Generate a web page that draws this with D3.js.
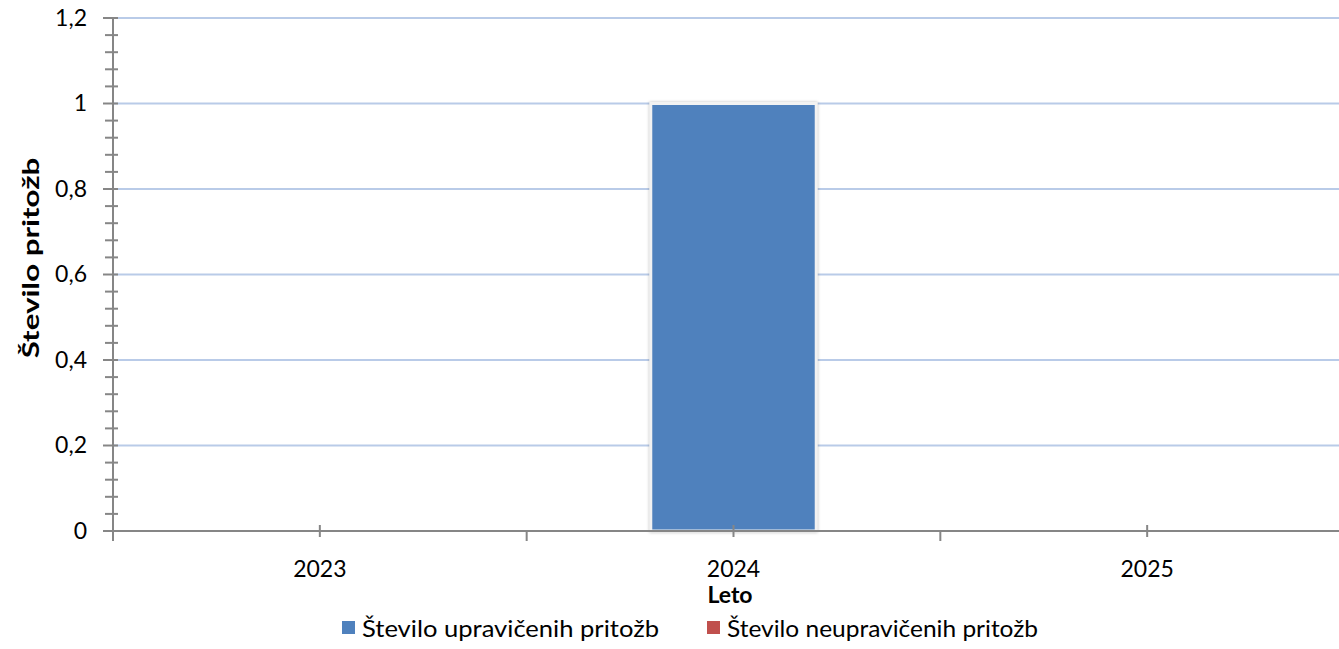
<!DOCTYPE html>
<html><head><meta charset="utf-8">
<script src="https://cdn.jsdelivr.net/npm/d3@7"></script>
<style>
body{margin:0;background:#fff;}
text{font-family:Lato,"Open Sans",sans-serif;fill:#000;}
</style></head>
<body><svg id="c" width="1339" height="649"></svg>
<script>
const categories = ["2023","2024","2025"];
const seriesNames = ["Število upravičenih pritožb","Število neupravičenih pritožb"];
const upraviceni = [0,1,0];
const neupraviceni = [0,0,0];
const yTicks = [0,0.2,0.4,0.6,0.8,1,1.2];
const colors = ["#4f81bd","#c0504d"];

const svg = d3.select("#c");
const x0 = 113, x1 = 1354, yTop = 18, yBot = 531;
const x = d3.scaleBand().domain(categories).range([x0,x1]).paddingInner(0).paddingOuter(0);
const y = d3.scaleLinear().domain([0,1.2]).range([yBot,yTop]);
const fmt = v => String(+v.toFixed(1)).replace(".",",");
const FS = 23;

// gridlines
svg.append("g").selectAll("line").data(yTicks.filter(d=>d>0)).join("line")
  .attr("x1",x0).attr("x2",x1).attr("y1",d=>y(d)).attr("y2",d=>y(d))
  .attr("stroke","#b9cbe8").attr("stroke-width",2);

// stacked bars
const stackData = categories.map((c,i)=>({cat:c,a:upraviceni[i],b:neupraviceni[i]}));
const stack = d3.stack().keys(["a","b"])(stackData);
const bw = x.bandwidth()*0.4;
stack.forEach((s,si)=>{
  svg.append("g").selectAll("rect").data(s.filter(d=>d[1]-d[0]>0)).join("rect")
    .attr("x",d=>x(d.data.cat)+x.bandwidth()/2-bw/2)
    .attr("width",bw)
    .attr("y",d=>y(d[1]))
    .attr("height",d=>y(d[0])-y(d[1]))
    .attr("fill",colors[si])
    .attr("stroke","#f2f2f2").attr("stroke-width",3)
    .style("filter","drop-shadow(0px 0px 1.5px rgba(0,0,0,0.25))");
});

// y axis labels
const yAxis = d3.axisLeft(y).tickValues(yTicks).tickFormat(fmt).tickSize(0).tickPadding(26);
const ga = svg.append("g").attr("transform",`translate(${x0},0)`).call(yAxis);
ga.select(".domain").remove();
ga.selectAll("text").attr("font-size",FS).style("font-family","Lato,sans-serif");
// y ticks major + minor
svg.append("g").selectAll("line").data(d3.range(0,31).map(i=>i*0.04)).join("line")
  .attr("x1",d=>Math.abs(d*5 - Math.round(d*5))<1e-6 ? x0-10 : x0-8)
  .attr("x2",x0+5).attr("y1",d=>y(d)).attr("y2",d=>y(d))
  .attr("stroke","#868686").attr("stroke-width",2);
svg.append("line").attr("x1",x0).attr("x2",x0).attr("y1",yTop).attr("y2",yBot+10)
  .attr("stroke","#868686").attr("stroke-width",2);

// x axis
svg.append("line").attr("x1",x0-10).attr("x2",x1).attr("y1",yBot).attr("y2",yBot)
  .attr("stroke","#868686").attr("stroke-width",2);
svg.append("g").selectAll("line").data(categories.slice(1)).join("line")
  .attr("x1",d=>x(d)).attr("x2",d=>x(d)).attr("y1",yBot).attr("y2",yBot+10)
  .attr("stroke","#868686").attr("stroke-width",2);
svg.append("g").selectAll("line").data(categories).join("line")
  .attr("x1",d=>x(d)+x.bandwidth()/2).attr("x2",d=>x(d)+x.bandwidth()/2)
  .attr("y1",yBot-6).attr("y2",yBot+6)
  .attr("stroke","#868686").attr("stroke-width",2);
svg.append("g").selectAll("text").data(categories).join("text")
  .attr("x",d=>x(d)+x.bandwidth()/2).attr("y",yBot+46)
  .attr("text-anchor","middle").attr("font-size",FS).text(d=>d);

// axis titles
svg.append("text").attr("x",730).attr("y",603).attr("text-anchor","middle")
  .attr("font-size",FS).attr("font-weight","bold").text("Leto");
svg.append("text").attr("transform","translate(39,258) rotate(-90) scale(1.36,1)").attr("text-anchor","middle")
  .attr("font-size",FS).attr("font-weight","bold").text("Število pritožb");

// legend
const legX = [342,707];
const legW = [297,311];
const lg = svg.append("g").selectAll("g").data(seriesNames).join("g")
  .attr("transform",(d,i)=>`translate(${legX[i]},621)`);
lg.append("rect").attr("width",13).attr("height",13).attr("fill",(d,i)=>colors[i]);
lg.append("text").attr("x",20).attr("y",16).attr("font-size",FS)
  .attr("textLength",(d,i)=>legW[i]).attr("lengthAdjust","spacingAndGlyphs").text(d=>d);
</script></body></html>
